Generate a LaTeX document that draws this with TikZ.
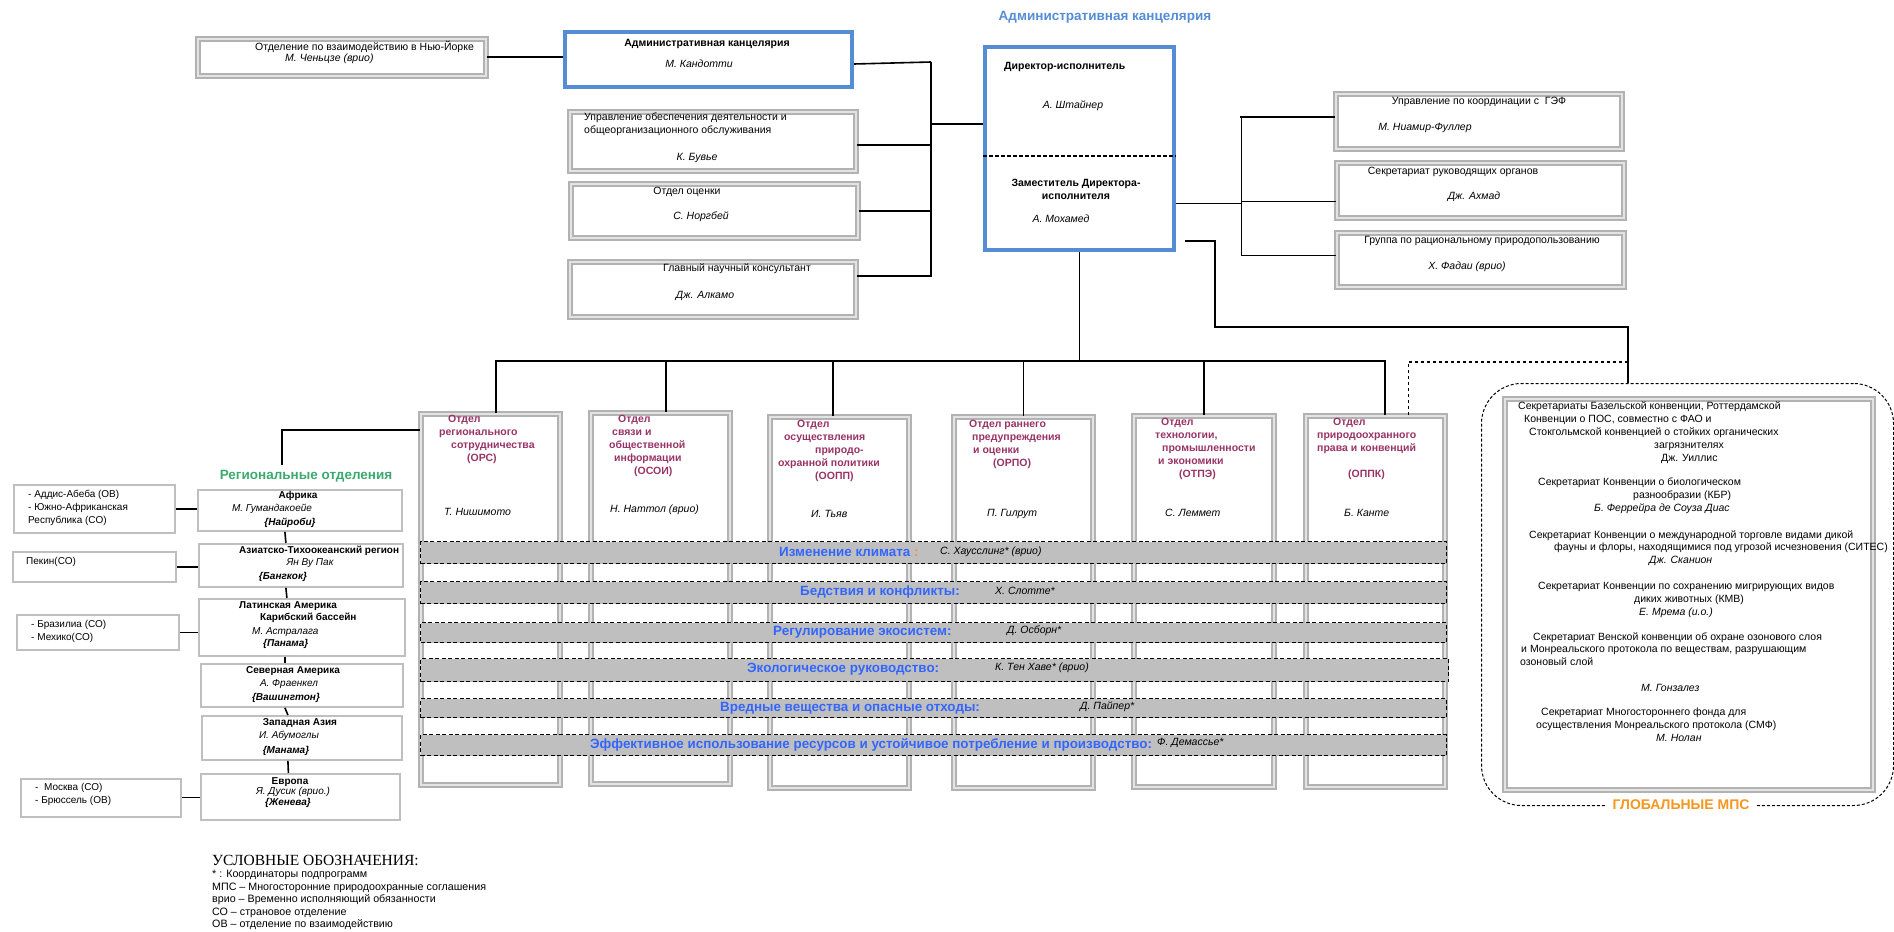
\documentclass[tikz,border=0pt]{standalone}
\usepackage{fontspec}
\setmainfont{Liberation Sans}
\newfontfamily\serf{Liberation Serif}
\definecolor{admblue}{RGB}{84,141,212}
\definecolor{divred}{RGB}{153,51,102}
\definecolor{progblue}{RGB}{51,102,255}
\definecolor{regreen}{RGB}{60,170,110}
\definecolor{mpsorange}{RGB}{245,150,30}
\begin{document}
\begin{tikzpicture}[x=1pt,y=-1pt,
  every node/.style={inner sep=0pt},
  admbox/.style={draw=admblue,line width=4pt,fill=white,anchor=north west},
  grbox/.style={draw=gray!60,line width=1.6pt,double=gray!22,double distance=2.4pt,fill=white,anchor=north west},
  regbox/.style={draw=gray!50,line width=1.8pt,fill=white,anchor=north west},
  progband/.style={draw=black,line width=1.1pt,dash pattern=on 4pt off 2.5pt,fill=gray!50,anchor=north west,minimum width=1026pt},
  conn/.style={line width=1.6pt},
  thinconn/.style={line width=0.9pt},
  txt/.style={font=\fontsize{10.5}{13}\selectfont},
  txti/.style={font=\fontsize{10.5}{13}\selectfont\itshape},
  hd/.style={font=\fontsize{10.5}{13}\selectfont\bfseries},
  divtitle/.style={anchor=north west,align=left,text=divred,font=\fontsize{10.5}{13}\selectfont\bfseries},
  divhead/.style={anchor=west,font=\fontsize{10.5}{13}\selectfont\itshape},
  progname/.style={anchor=west,text=progblue,font=\fontsize{13.4}{15}\selectfont\bfseries},
  proghead/.style={anchor=west,font=\fontsize{10.5}{12}\selectfont\itshape},
  rt/.style={font=\fontsize{10}{12.5}\selectfont},
  gtxt/.style={anchor=north west,align=left,font=\fontsize{10.5}{12.8}\selectfont}]
\useasboundingbox (0,0) rectangle (1894,931);

\node[grbox,minimum width=288pt,minimum height=37pt] (ny) at (197,38) {};
\node[admbox,minimum width=287pt,minimum height=55pt] (adm) at (563,30) {};
\node[grbox,minimum width=286pt,minimum height=59pt] (upr) at (569,111) {};
\node[grbox,minimum width=287pt,minimum height=54pt] (ots) at (570,183) {};
\node[grbox,minimum width=286pt,minimum height=55pt] (glav) at (569,261) {};
\node[admbox,minimum width=189pt,minimum height=203pt] (dir) at (983,45) {};
\node[grbox,minimum width=286pt,minimum height=55pt] (gef) at (1335,93) {};
\node[grbox,minimum width=287pt,minimum height=55pt] (sekr) at (1336,162) {};
\node[grbox,minimum width=287pt,minimum height=54pt] (grp) at (1336,232) {};
\draw[dash pattern=on 4pt off 2pt,line width=1.3pt] ([yshift=-7.5pt]dir.west) -- ([yshift=-7.5pt]dir.east);

\node[txt,anchor=west] (nyname) at (255,47) {Отделение по взаимодействию в Нью-Йорке};
\node[txti,anchor=west] (nyhead) at (285,59) {М. Ченьцзе (врио)};
\node[hd] (admname) at (707,44) {Административная канцелярия};
\node[txti] (admhead) at (699,64) {М. Кандотти};
\node[txt,anchor=north west,align=left] (uprname) at (584,113) {Управление обеспечения деятельности и\\общеорганизационного обслуживания};
\node[txti] (uprhead) at (697,158) {К. Бувье};
\node[txt] (otsname) at (687,192) {Отдел оценки};
\node[txti] (otshead) at (701,217) {С. Норгбей};
\node[txt] (glavname) at (737,269) {Главный научный консультант};
\node[txti] (glavhead) at (705,296) {Дж. Алкамо};
\node[font=\fontsize{13.5}{16}\selectfont\bfseries,text=admblue] (offtitle) at (1105,17) {Административная канцелярия};
\node[hd,anchor=west] (dirname) at (1004,67) {Директор-исполнитель};
\node[txti] (dirhead) at (1073,106) {А. Штайнер};
\node[hd,align=center] (depname) at (1076,189) {Заместитель Директора-\\исполнителя};
\node[txti] (dephead) at (1061,219) {А. Мохамед};
\node[txt] (gefname) at (1479,102) {Управление по координации с\ \ ГЭФ};
\node[txti] (gefhead) at (1425,128) {М. Ниамир-Фуллер};
\node[txt] (sekrname) at (1453,172) {Секретариат руководящих органов};
\node[txti] (sekrhead) at (1474,197) {Дж. Ахмад};
\node[txt] (grpname) at (1482,241) {Группа по рациональному природопользованию};
\node[txti] (grphead) at (1467,267) {Х. Фадаи (врио)};

\coordinate (lbus) at (931,62);
\coordinate (lmid) at (931,124);
\draw[conn] (ny.east) -- (ny.east -| adm.west);
\draw[conn] ([yshift=-4.5pt]adm.east) -- (lbus);
\draw[conn] ([yshift=-3.5pt]upr.east) -| (lbus);
\draw[conn] (ots.east) -| (lbus);
\draw[conn] ([yshift=13.5pt]glav.east) -| (lbus);
\draw[conn] (lmid) -- (lmid -| dir.west);
\coordinate (rbus) at (1241,116);
\draw[conn] ([yshift=4.5pt]gef.west) -| (rbus);
\draw[thinconn] ([yshift=-11.5pt]sekr.west) -| (rbus);
\draw[thinconn] ([yshift=4pt]grp.west) -| (rbus);
\draw[thinconn] ([yshift=-54.5pt]dir.east) -| (rbus);

\node[grbox,minimum width=139pt,minimum height=371pt] (ors) at (420,413) {};
\node[grbox,minimum width=139pt,minimum height=371pt] (osoi) at (590,412) {};
\node[grbox,minimum width=139pt,minimum height=371pt] (oopp) at (769,416) {};
\node[grbox,minimum width=139pt,minimum height=371pt] (orpo) at (953,416) {};
\node[grbox,minimum width=140pt,minimum height=371pt] (otpe) at (1133,415) {};
\node[grbox,minimum width=139pt,minimum height=371pt] (oppk) at (1305,415) {};

\coordinate (mbus) at (1077,361);
\draw[conn] (dir.south) -- (dir.south |- mbus);
\draw[conn] ([xshift=5.5pt]ors.north) |- (mbus);
\draw[conn] ([xshift=5.5pt]osoi.north) |- (mbus);
\draw[conn] ([xshift=-6.5pt]oopp.north) |- (mbus);
\draw[conn] (orpo.north) |- (mbus);
\draw[conn] (otpe.north) |- (mbus);
\draw[conn] ([xshift=9.5pt]oppk.north) |- (mbus);

\node[divtitle] (orsname) at (439,415) {\hspace*{9pt}Отдел\\регионального\\\hspace*{12pt}сотрудничества\\\hspace*{28pt}(ОРС)};
\node[divtitle] (osoiname) at (609,415) {\hspace*{9pt}Отдел\\\hspace*{3pt}связи и\\общественной\\\hspace*{5pt}информации\\\hspace*{25pt}(ОСОИ)};
\node[divtitle] (ooppname) at (778,420) {\hspace*{19pt}Отдел\\\hspace*{6pt}осуществления\\\hspace*{37pt}природо-\\охранной политики\\\hspace*{37pt}(ООПП)};
\node[divtitle] (orponame) at (969,420) {Отдел раннего\\\hspace*{3pt}предупреждения\\\hspace*{4pt}и оценки\\\hspace*{24pt}(ОРПО)};
\node[divtitle] (otpename) at (1155,418) {\hspace*{6pt}Отдел\\технологии,\\\hspace*{7pt}промышленности\\\hspace*{3pt}и экономики\\\hspace*{24pt}(ОТПЭ)};
\node[divtitle] (oppkname) at (1317,418) {\hspace*{16pt}Отдел\\природоохранного\\права и конвенций\\[13pt]\hspace*{31pt}(ОППК)};
\node[divhead] (orshead) at (444,512) {Т. Нишимото};
\node[divhead] (osoihead) at (610,510) {Н. Наттол (врио)};
\node[divhead] (oopphead) at (811,514) {И. Тьяв};
\node[divhead] (orpohead) at (987,514) {П. Гилрут};
\node[divhead] (otpehead) at (1165,513) {С. Леммет};
\node[divhead] (oppkhead) at (1344,513) {Б. Канте};

\node[progband,minimum height=22pt] (clim) at (420,541) {};
\node[progband,minimum height=22pt] (disas) at (420,581) {};
\node[progband,minimum height=20pt] (ecos) at (420,622) {};
\node[progband,minimum height=23pt,minimum width=1028pt] (envgov) at (420,658) {};
\node[progband,minimum height=19pt] (harm) at (420,698) {};
\node[progband,minimum height=21pt] (reseff) at (420,734) {};
\node[progname] (climname) at (779,552) {Изменение климата {\color{mpsorange}:}};
\node[proghead] (climhead) at (940,552) {С. Хаусслинг* (врио)};
\node[progname] (disasname) at (800,592) {Бедствия и конфликты:};
\node[proghead] (disashead) at (995,591) {Х. Слотте*};
\node[progname] (ecosname) at (773,632) {Регулирование экосистем:};
\node[proghead] (ecoshead) at (1007,631) {Д. Осборн*};
\node[progname] (envgovname) at (747,669) {Экологическое руководство:};
\node[proghead] (envgovhead) at (995,668) {К. Тен Хаве* (врио)};
\node[progname] (harmname) at (720,708) {Вредные вещества и опасные отходы:};
\node[proghead] (harmhead) at (1080,707) {Д. Пайпер*};
\node[progname] (reseffname) at (590,745) {Эффективное использование ресурсов и устойчивое потребление и производство:};
\node[proghead] (reseffhead) at (1157,743) {Ф. Демассье*};

\node[draw,dash pattern=on 3pt off 2pt,line width=1pt,rounded corners=40pt,anchor=north west,minimum width=412pt,minimum height=422pt] (glob) at (1481,383) {};
\node[grbox,fill=none,minimum width=368pt,minimum height=391pt] (globin) at (1504,398) {};
\coordinate (gturn) at (1215,327);
\coordinate (gtop) at (1628,362);
\draw[line width=1.2pt] ([xshift=9pt,yshift=-92.5pt]dir.east) -| (gturn) -| (glob.north -| gtop);
\draw[dashed,line width=1.1pt] ([xshift=33pt]oppk.north) |- (gtop);
\node[gtxt] (basel) at (1518,402) {Секретариаты Базельской конвенции, Роттердамской\\\hspace*{6pt}Конвенции о ПОС, совместно с ФАО и\\\hspace*{11pt}Стокгольмской конвенцией о стойких органических\\\hspace*{136pt}загрязнителях\\\hspace*{143pt}Дж. Уиллис};
\node[gtxt] (cbd) at (1538,478) {Секретариат Конвенции о биологическом\\\hspace*{95pt}разнообразии (КБР)\\\hspace*{56pt}\textit{Б. Феррейра де Соуза Диас}};
\node[gtxt] (cites) at (1529,530) {Секретариат Конвенции о международной торговле видами дикой\\\hspace*{25pt}фауны и флоры, находящимися под угрозой исчезновения (СИТЕС)\\\hspace*{120pt}\textit{Дж. Сканион}};
\node[gtxt] (cms) at (1538,582) {Секретариат Конвенции по сохранению мигрирующих видов\\\hspace*{96pt}диких животных (КМВ)\\\hspace*{101pt}\textit{Е. Мрема (и.о.)}};
\node[gtxt] (ozone) at (1520,632) {\hspace*{13pt}Секретариат Венской конвенции об охране озонового слоя\\\hspace*{1pt}и Монреальского протокола по веществам, разрушающим\\озоновый слой\\[12.8pt]\hspace*{121pt}\textit{М. Гонзалез}};
\node[gtxt] (mlf) at (1536,708) {\hspace*{5pt}Секретариат Многостороннего фонда для\\осуществления Монреальского протокола (СМФ)\\\hspace*{120pt}\textit{М. Нолан}};
\node[font=\fontsize{14}{16}\selectfont\bfseries,text=mpsorange,fill=white,inner xsep=6pt,inner ysep=1pt] (mpslabel) at (1681,805) {ГЛОБАЛЬНЫЕ МПС};

\node[regbox,minimum width=204pt,minimum height=41pt] (afr) at (197,489) {};
\node[regbox,minimum width=204pt,minimum height=43pt] (asia) at (198,543) {};
\node[regbox,minimum width=206pt,minimum height=57pt] (latam) at (198,598) {};
\node[regbox,minimum width=202pt,minimum height=43pt] (noram) at (200,663) {};
\node[regbox,minimum width=200pt,minimum height=44pt] (wasia) at (201,715) {};
\node[regbox,minimum width=199pt,minimum height=46pt] (europe) at (200,773) {};
\node[regbox,minimum width=161pt,minimum height=48pt] (afrl) at (13,484) {};
\node[regbox,minimum width=163pt,minimum height=30pt] (asial) at (12,551) {};
\node[regbox,minimum width=162pt,minimum height=35pt] (latl) at (16,614) {};
\node[regbox,minimum width=160pt,minimum height=38pt] (eurl) at (20,778) {};
\coordinate (regtop) at (282,465);
\draw[conn] ([yshift=169.5pt]ors.west) -| (regtop);
\draw[conn] ([xshift=-15pt]afr.south) -- ([xshift=-15pt]asia.north);
\draw[conn] ([xshift=-15pt]asia.south) -- ([xshift=-15pt]latam.north);
\draw[conn] ([xshift=-17pt]latam.south) -- ([xshift=-17pt]noram.north);
\draw[conn] ([xshift=-17pt]noram.south) -- ([xshift=-14pt]wasia.north);
\draw[conn] ([xshift=-14pt]wasia.south) -- ([xshift=-12pt]europe.north);
\draw[conn] (afrl.east) -- (afrl.east -| afr.west);
\draw[conn] (asial.east) -- (asial.east -| asia.west);
\draw[conn] (latl.east) -- (latl.east -| latam.west);
\draw[thinconn] (eurl.east) -- (eurl.east -| europe.west);

\node[font=\fontsize{13.5}{16}\selectfont\bfseries,text=regreen] (regtitle) at (306,476) {Региональные отделения};
\node[rt,font=\fontsize{10}{12.5}\selectfont\bfseries] (afr1) at (298,496) {Африка};
\node[rt,font=\fontsize{10}{12.5}\selectfont\itshape] (afr2) at (272,509) {М. Гумандакоейе};
\node[rt,font=\fontsize{10}{12.5}\selectfont\bfseries\itshape] (afr3) at (290,523) {\{Найроби\}};
\node[rt,anchor=west,font=\fontsize{10}{12.5}\selectfont\bfseries] (asia1) at (239,551) {Азиатско-Тихоокеанский регион};
\node[rt,font=\fontsize{10}{12.5}\selectfont\itshape] (asia2) at (310,563) {Ян Ву Пак};
\node[rt,font=\fontsize{10}{12.5}\selectfont\bfseries\itshape] (asia3) at (283,577) {\{Бангкок\}};
\node[rt,anchor=west,font=\fontsize{10}{12.5}\selectfont\bfseries] (lat1) at (239,606) {Латинская Америка};
\node[rt,anchor=west,font=\fontsize{10}{12.5}\selectfont\bfseries] (lat2) at (260,618) {Карибский бассейн};
\node[rt,anchor=west,font=\fontsize{10}{12.5}\selectfont\itshape] (lat3) at (252,632) {М. Астралага};
\node[rt,anchor=west,font=\fontsize{10}{12.5}\selectfont\bfseries\itshape] (lat4) at (263,644) {\{Панама\}};
\node[rt,font=\fontsize{10}{12.5}\selectfont\bfseries] (na1) at (293,671) {Северная Америка};
\node[rt,font=\fontsize{10}{12.5}\selectfont\itshape] (na2) at (289,684) {А. Фраенкел};
\node[rt,font=\fontsize{10}{12.5}\selectfont\bfseries\itshape] (na3) at (286,698) {\{Вашингтон\}};
\node[rt,font=\fontsize{10}{12.5}\selectfont\bfseries] (wa1) at (300,723) {Западная Азия};
\node[rt,font=\fontsize{10}{12.5}\selectfont\itshape] (wa2) at (289,736) {И. Абумоглы};
\node[rt,font=\fontsize{10}{12.5}\selectfont\bfseries\itshape] (wa3) at (286,751) {\{Манама\}};
\node[rt,font=\fontsize{10}{12.5}\selectfont\bfseries] (eu1) at (290,782) {Европа};
\node[rt,font=\fontsize{10}{12.5}\selectfont\itshape] (eu2) at (293,792) {Я. Дусик (врио.)};
\node[rt,font=\fontsize{10}{12.5}\selectfont\bfseries\itshape] (eu3) at (288,803) {\{Женева\}};
\node[rt,anchor=north west,align=left,font=\fontsize{10}{13}\selectfont] (afrlt) at (28,490) {- Аддис-Абеба (ОВ)\\- Южно-Африканская\\Республика (СО)};
\node[rt,anchor=west] (asialt) at (26,562) {Пекин(СО)};
\node[rt,anchor=north west,align=left,font=\fontsize{10}{13}\selectfont] (latlt) at (31,620) {- Бразилиа (СО)\\- Мехико(СО)};
\node[rt,anchor=north west,align=left,font=\fontsize{10}{13}\selectfont] (eurlt) at (35,783) {-\ \ Москва (СО)\\- Брюссель (ОВ)};

\node[anchor=west,font=\serf\fontsize{15.5}{17}\selectfont] (legtitle) at (212,860) {УСЛОВНЫЕ ОБОЗНАЧЕНИЯ:};
\node[anchor=north west,align=left,font=\fontsize{10.7}{12.6}\selectfont] (legbody) at (212,870) {* : Координаторы подпрограмм\\МПС – Многосторонние природоохранные соглашения\\врио – Временно исполняющий обязанности\\СО – страновое отделение\\ОВ – отделение по взаимодействию};
\end{tikzpicture}
\end{document}
